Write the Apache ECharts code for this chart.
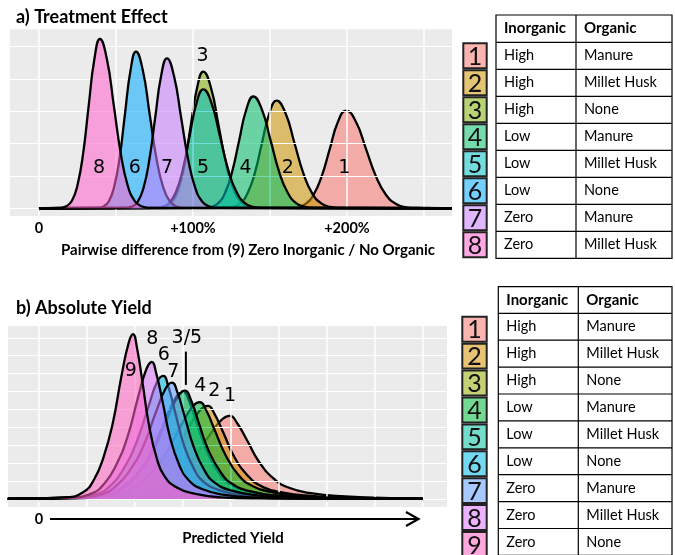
<!DOCTYPE html>
<html>
<head>
<meta charset="utf-8">
<style>
  html, body { margin: 0; padding: 0; background: #fff; }
  #chart { width: 675px; height: 555px; }
</style>
<script src="https://cdn.jsdelivr.net/npm/echarts@6/dist/echarts.min.js"></script>
</head>
<body>
<div id="chart"></div>
<script>
// ---- panel a: pairwise difference (%), density curves per treatment ----
var a1 = [[0,0],[162.3,0.01],[167.6,0.03],[172.9,0.13],[178.2,0.41],[183.5,0.98],[188.8,1.83],[194.1,2.67],[199.4,3.02],[205.9,2.67],[212.4,1.83],[218.9,0.98],[225.4,0.41],[231.9,0.13],[238.4,0.03],[244.9,0.01],[268,0]];
var a2 = [[0,0],[121.1,0.01],[125.8,0.04],[130.6,0.15],[135.3,0.45],[140.1,1.08],[144.8,2.02],[149.6,2.94],[154.3,3.33],[160.1,2.94],[165.9,2.02],[171.7,1.08],[177.5,0.45],[183.3,0.15],[189.1,0.04],[194.9,0.01],[268,0]];
var a3 = [[0,0],[78.4,0.01],[82.4,0.05],[86.5,0.19],[90.5,0.57],[94.6,1.37],[98.6,2.57],[102.7,3.73],[106.7,4.23],[111.7,3.73],[116.6,2.57],[121.6,1.37],[126.5,0.57],[131.5,0.19],[136.4,0.05],[141.4,0.01],[268,0]];
var a4 = [[0,0],[107.0,0.01],[111.6,0.04],[116.2,0.15],[120.8,0.47],[125.4,1.12],[130.0,2.10],[134.6,3.05],[139.2,3.46],[144.8,3.05],[150.4,2.10],[156.0,1.12],[161.6,0.47],[167.2,0.15],[172.8,0.04],[178.4,0.01],[268,0]];
var a5 = [[0,0],[75.6,0.01],[80.0,0.04],[84.5,0.16],[88.9,0.50],[93.4,1.19],[97.8,2.23],[102.3,3.25],[106.7,3.68],[112.1,3.25],[117.5,2.23],[122.9,1.19],[128.3,0.50],[133.7,0.16],[139.1,0.04],[144.5,0.01],[268,0]];
var a6 = [[0,0],[38.2,0.01],[41.7,0.05],[45.3,0.21],[48.8,0.66],[52.4,1.57],[55.9,2.94],[59.5,4.28],[63.0,4.85],[67.4,4.28],[71.8,2.94],[76.2,1.57],[80.6,0.66],[85.0,0.21],[89.4,0.05],[93.8,0.01],[268,0]];
var a7 = [[0,0],[56.5,0.01],[60.3,0.05],[64.1,0.20],[67.9,0.63],[71.7,1.51],[75.5,2.81],[79.3,4.09],[83.1,4.64],[87.7,4.09],[92.3,2.81],[96.9,1.51],[101.5,0.63],[106.1,0.20],[110.7,0.05],[115.3,0.01],[268,0]];
var a8 = [[0,0],[14.0,0.01],[17.7,0.06],[21.4,0.23],[25.0,0.71],[28.7,1.70],[32.3,3.18],[36.0,4.62],[39.6,5.24],[44.1,4.62],[48.6,3.18],[53.1,1.70],[57.6,0.71],[62.1,0.23],[66.6,0.06],[71.1,0.01],[268,0]];

// ---- panel b: predicted yield, density curves per treatment ----
var b1 = [[-0.65,0],[1.28,0.05],[2.00,0.19],[2.45,0.56],[2.81,1.16],[3.17,2.09],[3.53,3.48],[3.80,4.41],[3.98,4.64],[4.12,4.27],[4.34,3.25],[4.58,2.09],[4.88,1.16],[5.18,0.65],[5.66,0.32],[6.38,0.14],[7.34,0.05],[8,0]];
var b2 = [[-0.65,0],[1.02,0.05],[1.68,0.21],[2.10,0.62],[2.43,1.30],[2.77,2.34],[3.10,3.90],[3.35,4.94],[3.52,5.2],[3.65,4.78],[3.85,3.64],[4.07,2.34],[4.35,1.30],[4.62,0.73],[5.06,0.36],[5.72,0.16],[6.60,0.05],[7.60,0.02],[8,0]];
var b3 = [[-0.65,0],[0.83,0.06],[1.41,0.24],[1.77,0.72],[2.06,1.50],[2.35,2.70],[2.64,4.50],[2.86,5.70],[3.0,6.0],[3.12,5.52],[3.29,4.20],[3.49,2.70],[3.73,1.50],[3.97,0.84],[4.36,0.42],[4.94,0.18],[5.72,0.06],[6.88,0.02],[8,0]];
var b4 = [[-0.65,0],[0.92,0.05],[1.57,0.22],[1.97,0.65],[2.30,1.35],[2.62,2.43],[2.95,4.05],[3.19,5.13],[3.35,5.4],[3.48,4.97],[3.67,3.78],[3.89,2.43],[4.15,1.35],[4.42,0.76],[4.85,0.38],[5.49,0.16],[6.35,0.05],[7.40,0.02],[8,0]];
var b5 = [[-0.65,0],[0.88,0.06],[1.46,0.24],[1.82,0.73],[2.10,1.51],[2.39,2.72],[2.68,4.54],[2.90,5.75],[3.04,6.05],[3.16,5.57],[3.33,4.24],[3.53,2.72],[3.78,1.51],[4.02,0.85],[4.41,0.42],[5.00,0.18],[5.78,0.06],[6.96,0.02],[8,0]];
var b6 = [[-0.65,0],[0.70,0.07],[1.20,0.27],[1.52,0.82],[1.77,1.72],[2.02,3.09],[2.28,5.15],[2.46,6.53],[2.59,6.87],[2.69,6.32],[2.84,4.81],[3.01,3.09],[3.22,1.72],[3.43,0.96],[3.77,0.48],[4.27,0.21],[4.94,0.07],[5.95,0.02],[8,0]];
var b7 = [[-0.65,0],[0.76,0.07],[1.30,0.26],[1.63,0.78],[1.90,1.63],[2.17,2.93],[2.44,4.88],[2.64,6.18],[2.77,6.5],[2.88,5.98],[3.04,4.55],[3.22,2.93],[3.44,1.63],[3.66,0.91],[4.02,0.46],[4.55,0.20],[5.26,0.07],[6.33,0.02],[8,0]];
var b8 = [[-0.65,0],[0.64,0.08],[1.10,0.31],[1.38,0.92],[1.61,1.91],[1.84,3.44],[2.07,5.74],[2.24,7.27],[2.35,7.65],[2.44,7.04],[2.58,5.36],[2.73,3.44],[2.92,1.91],[3.11,1.07],[3.41,0.54],[3.87,0.23],[4.48,0.08],[5.39,0.02],[8,0]];
var b9 = [[-0.65,0],[0.54,0.09],[0.92,0.37],[1.15,1.10],[1.34,2.30],[1.53,4.14],[1.72,6.90],[1.87,8.74],[1.96,9.2],[2.04,8.46],[2.16,6.44],[2.29,4.14],[2.45,2.30],[2.61,1.29],[2.87,0.64],[3.26,0.28],[3.78,0.09],[4.56,0.03],[8,0]];

// axis ticks / grid lines
var tickValsA = [0, 100, 200];
var tickTextA = ['0', '+100%', '+200%'];
var gridXA = [0, 50, 100, 150, 200, 250];
var gridYA = [0, 1, 2, 3, 4, 5];
var tickValsB = [0, 2, 4, 6, 8];
var gridXB = [0, 1, 2, 3, 4, 5, 6, 7, 8];
var gridYB = [0, 1, 2, 3, 4, 5, 6, 7, 8, 9];

// curve labels
var labA = ['8', '6', '7', '5', '4', '2', '1', '3'];
var labPosA = [[39.0,1.25],[62.3,1.25],[83.1,1.25],[106.5,1.25],[134.2,1.25],[161.5,1.25],[198.2,1.25],[106.3,4.72]];
var labB = ['9', '8', '6', '7', '3/5', '4', '2', '1'];
var labPosB = [[1.91,7.17],[2.36,8.92],[2.60,8.04],[2.80,7.11],[3.08,8.98],[3.36,6.31],[3.65,6.03],[3.98,5.75]];
var pointerB = [[3.06,8.23],[3.06,6.37]];

// legend tables
var inorganicA = ['High', 'High', 'High', 'Low', 'Low', 'Low', 'Zero', 'Zero'];
var organicA = ['Manure', 'Millet Husk', 'None', 'Manure', 'Millet Husk', 'None', 'Manure', 'Millet Husk'];
var inorganicB = ['High', 'High', 'High', 'Low', 'Low', 'Low', 'Zero', 'Zero', 'Zero'];
var organicB = ['Manure', 'Millet Husk', 'None', 'Manure', 'Millet Husk', 'None', 'Manure', 'Millet Husk', 'None'];

var hueA = ['#F8766D', '#CD9600', '#7CAE00', '#00BE67', '#00BFC4', '#00A9FF', '#C77CFF', '#FF61CC'];
var hueB = ['#F8766D', '#D39200', '#93AA00', '#00BA38', '#00C19F', '#00B9E3', '#619CFF', '#DB72FB', '#FF61C3'];

function rgba(hex, a) {
  var n = parseInt(hex.slice(1), 16);
  return 'rgba(' + (n >> 16) + ',' + ((n >> 8) & 255) + ',' + (n & 255) + ',' + a + ')';
}

var chart = echarts.init(document.getElementById('chart'));

function gridSeries(xi, xs, ys) {
  return {
    type: 'line', xAxisIndex: xi, yAxisIndex: xi, z: 1, silent: true,
    data: [], symbol: 'none',
    markLine: {
      silent: true, symbol: ['none', 'none'], animation: false,
      label: { show: false },
      emphasis: { disabled: true },
      lineStyle: { color: '#fff', width: 1.5, type: 'solid' },
      data: xs.map(function(v) { return { xAxis: v }; })
        .concat(ys.map(function(v) { return { yAxis: v, lineStyle: { width: 1.1 } }; }))
    }
  };
}

function curve(xi, data, color, z) {
  return {
    type: 'line', xAxisIndex: xi, yAxisIndex: xi, data: data,
    smooth: 0.5, symbol: 'none', z: z, silent: true,
    lineStyle: { color: '#000', width: 2.3 },
    areaStyle: { color: color, opacity: 0.55 }
  };
}

function labels(xi, names, pos) {
  return {
    type: 'scatter', xAxisIndex: xi, yAxisIndex: xi, z: 30, silent: true,
    symbolSize: 1, itemStyle: { color: 'rgba(0,0,0,0)', opacity: 1 },
    data: names.map(function(n, i) { return { name: n, value: pos[i] }; }),
    label: {
      show: true, position: 'inside', formatter: '{b}',
      fontFamily: 'DejaVu Sans', fontSize: 19, color: '#000', textBorderWidth: 0
    }
  };
}

var curvesA = [a1, a2, a3, a4, a5, a6, a7, a8];
var curvesB = [b1, b2, b3, b4, b5, b6, b7, b8, b9];

var series = [gridSeries(0, gridXA, gridYA), gridSeries(1, gridXB, gridYB)];
curvesA.forEach(function(d, i) { series.push(curve(0, d, hueA[i], 2 + i)); });
curvesB.forEach(function(d, i) { series.push(curve(1, d, hueB[i], 2 + i)); });
series.push(labels(0, labA, labPosA));
series.push(labels(1, labB, labPosB));
series.push({
  type: 'line', xAxisIndex: 1, yAxisIndex: 1, data: pointerB, symbol: 'none', z: 30, silent: true,
  lineStyle: { color: '#000', width: 2 }
});

// tables
var graphic = [];
function addTable(t, inorg, org, hue) {
  var n = inorg.length;
  var bottom = t.head + n * t.rowH;
  var black = { stroke: '#000', lineWidth: 1.2 };
  graphic.push({ type: 'rect', shape: { x: t.left, y: t.top, width: t.right - t.left, height: bottom - t.top }, style: { fill: 'none', stroke: '#000', lineWidth: 1.2 } });
  graphic.push({ type: 'line', shape: { x1: t.mid, y1: t.top, x2: t.mid, y2: bottom }, style: black });
  graphic.push({ type: 'line', shape: { x1: t.left, y1: t.head, x2: t.right, y2: t.head }, style: black });
  graphic.push({ type: 'text', x: t.left + 8, y: (t.top + t.head) / 2, style: { text: 'Inorganic', font: 'bold 15px Lato', fill: '#000', textAlign: 'left', textVerticalAlign: 'middle' } });
  graphic.push({ type: 'text', x: t.mid + 8, y: (t.top + t.head) / 2, style: { text: 'Organic', font: 'bold 15px Lato', fill: '#000', textAlign: 'left', textVerticalAlign: 'middle' } });
  for (var i = 0; i < n; i++) {
    var y0 = t.head + i * t.rowH;
    if (i > 0) graphic.push({ type: 'line', shape: { x1: t.left, y1: y0, x2: t.right, y2: y0 }, style: black });
    graphic.push({ type: 'text', x: t.left + 8, y: y0 + t.rowH / 2, style: { text: inorg[i], font: '14.5px Lato', fill: '#000', textAlign: 'left', textVerticalAlign: 'middle' } });
    graphic.push({ type: 'text', x: t.mid + 8, y: y0 + t.rowH / 2, style: { text: org[i], font: '14.5px Lato', fill: '#000', textAlign: 'left', textVerticalAlign: 'middle' } });
    var by = y0 + t.boxDy + 1;
    graphic.push({ type: 'rect', shape: { x: t.boxX, y: by, width: t.boxW, height: t.rowH - 2 }, style: { fill: rgba(hue[i], 0.55), stroke: '#222', lineWidth: 2 } });
    graphic.push({ type: 'text', x: t.boxX + t.boxW / 2, y: by + (t.rowH - 2) / 2 + 1, style: { text: String(i + 1), font: '25px Lato', fill: '#111', textAlign: 'center', textVerticalAlign: 'middle' } });
  }
}
addTable({ left: 496, mid: 576, right: 672, top: 15, head: 42.3, rowH: 27.0, boxX: 463.3, boxW: 23.4, boxDy: 0 }, inorganicA, organicA, hueA);
addTable({ left: 498.3, mid: 578.3, right: 672, top: 286.7, head: 313.3, rowH: 26.9, boxX: 462.3, boxW: 24.4, boxDy: 2.5 }, inorganicB, organicB, hueB);

// titles and yield arrow
graphic.push({ type: 'text', x: 16, y: 17.5, style: { text: 'a) Treatment Effect', font: 'bold 18px Lato', fill: '#000', textAlign: 'left', textVerticalAlign: 'middle' } });
graphic.push({ type: 'text', x: 16, y: 308, style: { text: 'b) Absolute Yield', font: 'bold 18px Lato', fill: '#000', textAlign: 'left', textVerticalAlign: 'middle' } });
graphic.push({ type: 'line', shape: { x1: 50, y1: 519, x2: 418, y2: 519 }, style: { stroke: '#000', lineWidth: 2.2 } });
graphic.push({ type: 'polyline', shape: { points: [[406, 512], [418.5, 519], [406, 526]] }, style: { stroke: '#000', lineWidth: 2.2, fill: 'none' } });

var axisFont = { fontFamily: 'Lato', fontWeight: 'bold', fontSize: 15, color: '#000' };

chart.setOption({
  animation: false,
  backgroundColor: '#fff',
  grid: [
    { left: 10, top: 29.3, width: 442, height: 186.7, show: true, backgroundColor: '#EBEBEB', borderWidth: 0 },
    { left: 8, top: 326, width: 439, height: 181, show: true, backgroundColor: '#EBEBEB', borderWidth: 0 }
  ],
  xAxis: [
    {
      type: 'value', gridIndex: 0, min: -18.8, max: 268.2,
      splitLine: { show: false }, axisLine: { show: false },
      axisTick: { show: true, customValues: tickValsA, length: 3, lineStyle: { color: '#444' } },
      axisLabel: Object.assign({}, axisFont, { fontSize: 14.5, customValues: tickValsA, margin: 5, formatter: function(v) { return tickTextA[tickValsA.indexOf(v)]; } }),
      name: 'Pairwise difference from (9) Zero Inorganic / No Organic',
      nameLocation: 'middle', nameGap: 27,
      nameTextStyle: Object.assign({ padding: [0, 0, 0, 34] }, axisFont)
    },
    {
      type: 'value', gridIndex: 1, min: -0.646, max: 8.5,
      splitLine: { show: false }, axisLine: { show: false },
      axisTick: { show: true, customValues: tickValsB, length: 3, lineStyle: { color: '#666' } },
      axisLabel: Object.assign({}, axisFont, { fontSize: 14.5, customValues: [0], margin: 5, formatter: '0' }),
      name: 'Predicted Yield', nameLocation: 'middle', nameGap: 24,
      nameTextStyle: Object.assign({ padding: [0, 0, 0, 11] }, axisFont)
    }
  ],
  yAxis: [
    { type: 'value', gridIndex: 0, min: -0.24, max: 5.54, show: false, splitLine: { show: false } },
    { type: 'value', gridIndex: 1, min: -0.45, max: 9.66, show: false, splitLine: { show: false } }
  ],
  series: series,
  graphic: graphic
});
window.addEventListener('resize', function() { chart.resize(); });
</script>
</body>
</html>
